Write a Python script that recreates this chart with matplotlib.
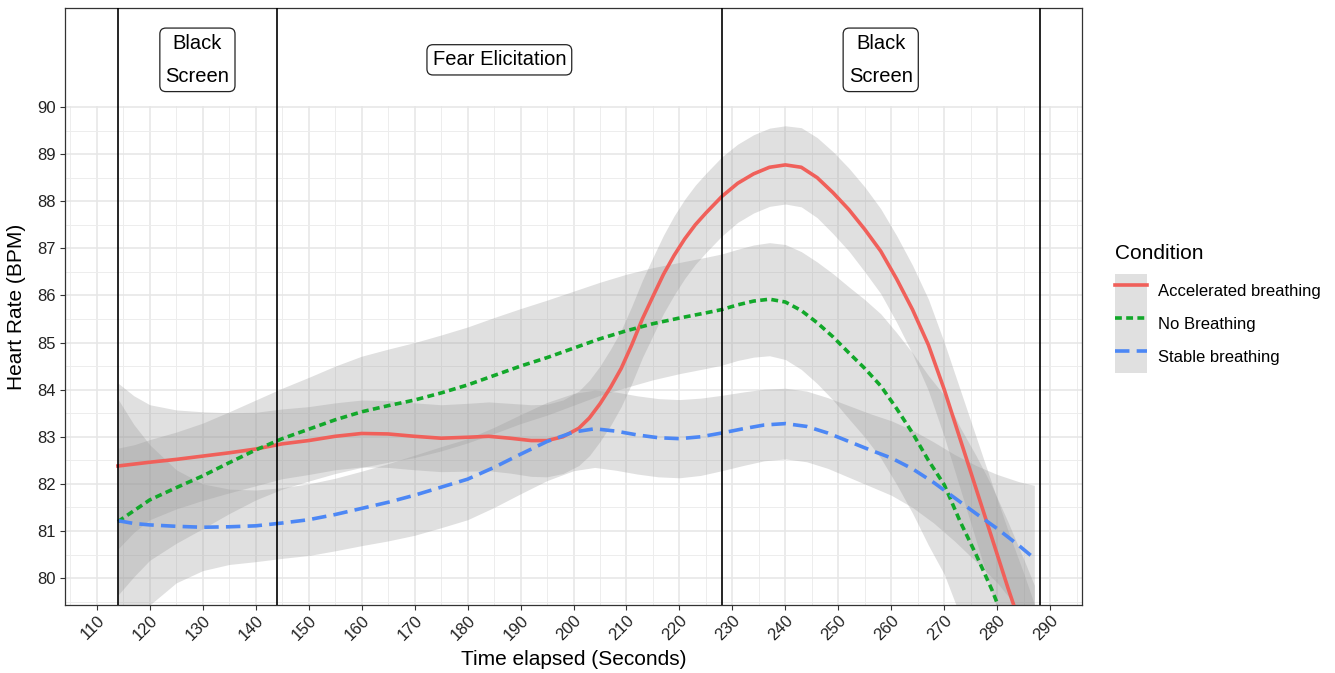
import matplotlib
matplotlib.use('Agg')
import matplotlib.pyplot as plt
from matplotlib.lines import Line2D
from matplotlib.patches import Patch
from matplotlib.ticker import MultipleLocator

plt.rcParams['font.family'] = ['Liberation Sans', 'DejaVu Sans']

# ---------------- data ----------------
conditions = ['Accelerated breathing', 'No Breathing', 'Stable breathing']

acc_x = [114, 117, 120, 125, 130, 135, 140, 145, 150, 155, 160, 165, 170, 175, 180, 184, 188, 192,
         195, 198, 201, 203, 205, 207, 209, 211, 213, 215, 217, 219, 221, 223, 225, 228, 231, 234,
         237, 240, 243, 246, 249, 252, 255, 258, 261, 264, 267, 270, 273, 276, 279, 282, 285, 287]
acc_y = [82.38, 82.42, 82.46, 82.52, 82.59, 82.66, 82.74, 82.85, 82.92, 83.01, 83.07, 83.06, 83.01,
         82.97, 82.99, 83.01, 82.97, 82.92, 82.92, 83.00, 83.18, 83.40, 83.70, 84.05, 84.45, 84.95,
         85.50, 85.98, 86.45, 86.85, 87.20, 87.50, 87.75, 88.10, 88.38, 88.58, 88.72, 88.77, 88.72,
         88.50, 88.18, 87.82, 87.40, 86.94, 86.35, 85.70, 84.95, 84.00, 82.95, 81.90, 80.85, 79.80,
         78.80, 78.10]
acc_se = [1.76, 1.45, 1.22, 1.05, 0.94, 0.85, 0.78, 0.74, 0.72, 0.71, 0.71, 0.71, 0.71, 0.71, 0.72,
          0.73, 0.74, 0.76, 0.77, 0.78, 0.79, 0.80, 0.80, 0.81, 0.81, 0.82, 0.82, 0.83, 0.83, 0.84,
          0.84, 0.84, 0.84, 0.84, 0.83, 0.83, 0.83, 0.83, 0.84, 0.85, 0.87, 0.88, 0.90, 0.90, 0.92,
          0.94, 0.97, 1.00, 1.05, 1.10, 1.15, 1.22, 1.30, 1.35]

nob_x = [114, 117, 120, 125, 130, 135, 140, 145, 150, 155, 160, 165, 170, 175, 180, 185, 190, 195,
         200, 205, 210, 215, 220, 225, 228, 231, 234, 237, 240, 243, 246, 249, 252, 255, 258, 261,
         264, 267, 270, 273, 276, 279, 282, 285, 287]
nob_y = [81.20, 81.43, 81.66, 81.92, 82.17, 82.45, 82.72, 82.96, 83.16, 83.36, 83.53, 83.66, 83.78,
         83.93, 84.10, 84.30, 84.50, 84.68, 84.88, 85.08, 85.25, 85.40, 85.52, 85.63, 85.70, 85.80,
         85.88, 85.92, 85.86, 85.68, 85.42, 85.12, 84.78, 84.45, 84.08, 83.60, 83.08, 82.50, 81.98,
         81.20, 80.50, 79.75, 78.90, 78.00, 77.40]
nob_se = [1.56, 1.40, 1.28, 1.18, 1.12, 1.08, 1.06, 1.07, 1.10, 1.14, 1.18, 1.20, 1.22, 1.23, 1.23,
          1.23, 1.22, 1.22, 1.21, 1.20, 1.20, 1.19, 1.18, 1.18, 1.18, 1.18, 1.19, 1.20, 1.22, 1.25,
          1.29, 1.34, 1.40, 1.46, 1.53, 1.61, 1.70, 1.80, 1.90, 2.00, 2.10, 2.20, 2.30, 2.40, 2.45]

stb_x = [114, 117, 120, 125, 130, 135, 140, 145, 150, 155, 160, 165, 170, 175, 180, 185, 190, 195,
         200, 204, 208, 212, 216, 220, 224, 228, 232, 236, 240, 244, 248, 252, 256, 260, 264, 268,
         272, 276, 280, 284, 287]
stb_y = [81.22, 81.16, 81.13, 81.10, 81.08, 81.09, 81.11, 81.17, 81.24, 81.35, 81.48, 81.61, 81.76,
         81.93, 82.10, 82.35, 82.63, 82.90, 83.10, 83.17, 83.12, 83.04, 82.98, 82.96, 83.00, 83.08,
         83.17, 83.25, 83.28, 83.22, 83.08, 82.90, 82.72, 82.55, 82.32, 82.03, 81.70, 81.37, 81.05,
         80.70, 80.42]
stb_se = [2.58, 2.10, 1.70, 1.20, 0.92, 0.80, 0.76, 0.75, 0.76, 0.77, 0.79, 0.82, 0.85, 0.86, 0.86,
          0.85, 0.84, 0.83, 0.82, 0.82, 0.83, 0.83, 0.83, 0.83, 0.82, 0.80, 0.78, 0.76, 0.75, 0.75,
          0.75, 0.76, 0.77, 0.79, 0.82, 0.86, 0.92, 1.02, 1.15, 1.35, 1.55]

phase_bounds = [114, 144, 228, 288]
phase_labels = ['Black\nScreen', 'Fear Elicitation', 'Black\nScreen']
x_ticks = list(range(110, 291, 10))
y_ticks = list(range(80, 91))

# ---------------- styles ----------------
colors = ['#F0605A', '#12A82A', '#4C87F5']
LW = 2.6
styles = ['-', (0, (1.9, 1.2)), (0, (4.0, 2.0))]

fig = plt.figure(figsize=(13.35, 6.73), dpi=100)
ax = fig.add_axes([65 / 1335, 68 / 673, 1017 / 1335, 597 / 673])

series = [(acc_x, acc_y, acc_se), (nob_x, nob_y, nob_se), (stb_x, stb_y, stb_se)]
for (xs, ys, se), c, ls in zip(series, colors, styles):
    lo = [y - s for y, s in zip(ys, se)]
    hi = [y + s for y, s in zip(ys, se)]
    ax.fill_between(xs, lo, hi, color='#999999', alpha=0.3, linewidth=0, zorder=2)
for (xs, ys, se), c, ls in zip(series, colors, styles):
    ax.plot(xs, ys, color=c, lw=LW, linestyle=ls, zorder=3, dash_capstyle='butt',
            solid_joinstyle='round')

ax.set_xlim(104, 296)
ax.set_ylim(79.43, 92.1)

# white cover above 90
ax.axhspan(90.03, 93, color='white', zorder=1.5, linewidth=0)

for b in phase_bounds:
    ax.axvline(b, color='black', lw=1.2, zorder=4)

mids = [(phase_bounds[i] + phase_bounds[i + 1]) / 2 for i in range(3)]
for m, lab in zip(mids, phase_labels):
    ax.text(m, 91.0, lab, ha='center', va='center', fontsize=14.5, linespacing=1.95, zorder=5,
            bbox=dict(boxstyle='round,pad=0.28,rounding_size=0.3', facecolor='white',
                      edgecolor='#222222', linewidth=0.9))

ax.set_xticks(x_ticks)
ax.set_yticks(y_ticks)
ax.xaxis.set_minor_locator(MultipleLocator(5))
ax.yaxis.set_minor_locator(MultipleLocator(0.5))
ax.grid(which='major', color='#E6E6E6', lw=1.1)
ax.grid(which='minor', color='#EDEDED', lw=0.7)
ax.set_axisbelow(True)

ax.tick_params(axis='both', which='major', length=3.5, width=0.8, color='#333333',
               labelsize=12, labelcolor='#222222')
ax.tick_params(axis='both', which='minor', length=0)
ax.tick_params(axis='x', pad=2)
ax.tick_params(axis='y', pad=3)
for lbl in ax.get_xticklabels():
    lbl.set_rotation(45)
    lbl.set_ha('right')
    lbl.set_va('top')
    lbl.set_rotation_mode('anchor')

for sp in ax.spines.values():
    sp.set_color('#333333')
    sp.set_linewidth(0.9)

ax.set_xlabel('Time elapsed (Seconds)', fontsize=15, labelpad=5)
ax.set_ylabel('Heart Rate (BPM)', fontsize=15, labelpad=8)

handles = []
for c, ls in zip(colors, styles):
    handles.append((Patch(facecolor='#999999', alpha=0.3, edgecolor='none'),
                    Line2D([], [], color=c, lw=LW, linestyle=ls, dash_capstyle='butt')))
leg = fig.legend(handles, conditions, loc='upper left', bbox_to_anchor=(1115 / 1335, (673 - 244) / 673),
                 frameon=False, fontsize=12, title='Condition', title_fontsize=15,
                 handlelength=1.9, handleheight=2.67, labelspacing=0.0, handletextpad=0.7,
                 borderpad=0, borderaxespad=0, alignment='left')
leg._legend_box.sep = 8

fig.savefig('out.png', dpi=100)
